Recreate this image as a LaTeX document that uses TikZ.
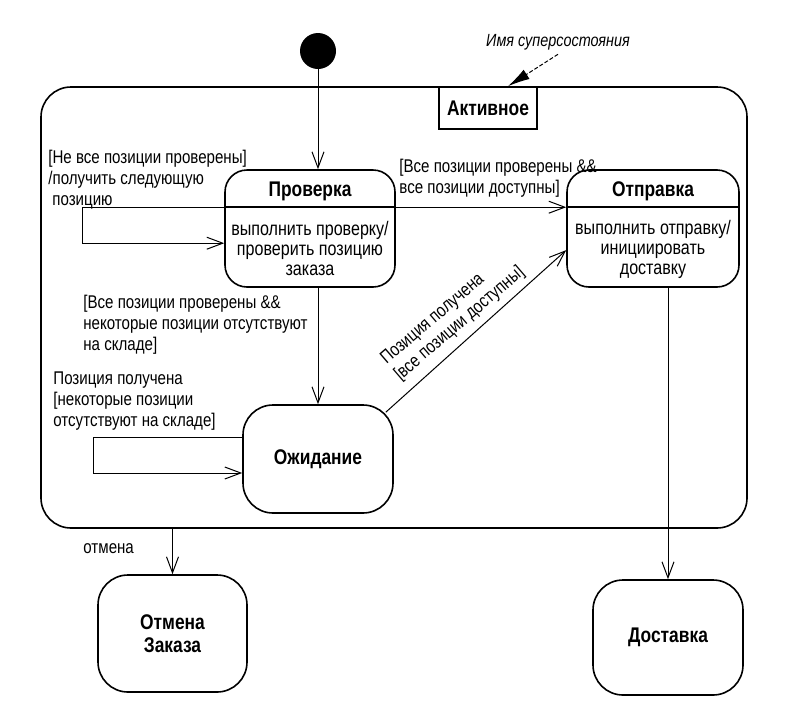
\documentclass[tikz,border=0pt]{standalone}
\usepackage{fontspec}
\setmainfont{Liberation Sans}[FakeStretch=0.82]
\usetikzlibrary{arrows.meta}

\tikzset{
  state/.style={draw, line width=0.8pt, rounded corners=15pt, align=center,
    font=\fontsize{10.6}{11.5}\selectfont\bfseries, inner sep=0pt},
  compstate/.style={draw, line width=0.8pt, rounded corners=11pt,
    minimum width=85pt, minimum height=58.5pt, inner sep=0pt},
  title/.style={font=\fontsize{10.6}{12}\selectfont\bfseries, inner sep=0pt},
  body/.style={font=\fontsize{9.8}{10}\selectfont, align=center, inner sep=0pt},
  guard/.style={font=\fontsize{9.2}{10.5}\selectfont, align=left, inner sep=0pt},
  trans/.style={line width=0.5pt, -{Straight Barb[length=8pt,width=6pt]}},
}

\begin{document}
\begin{tikzpicture}[x=0.5pt, y=-0.5pt]
  \useasboundingbox (0,0) rectangle (797,707);

  %%%%% superstate %%%%%
  \node[draw, line width=0.8pt, rounded corners=15pt, minimum width=353pt, minimum height=220.5pt] (Active) at (394,307.5) {};
  \node[draw, line width=0.8pt, title, minimum width=49pt, minimum height=21pt] (ActiveName) at (488,108) {Активное};

  \node[font=\fontsize{8.8}{10}\selectfont\itshape, inner sep=0pt] (SuperName) at (558,42) {Имя суперсостояния};
  \draw[line width=0.5pt, dash pattern=on 2pt off 1pt, -{Latex[length=11pt,width=5.5pt]}] ([yshift=-2pt]SuperName.south) -- ([xshift=10pt]ActiveName.north);

  %%%%% states %%%%%
  \node[circle, fill=black, minimum size=18pt, inner sep=0pt] (Init) at (318,51) {};

  \node[compstate] (Proverka) at (310,228.5) {};
  \node[title] (ProverkaT) at (310,191) {Проверка};
  \node[body] (ProverkaB) at (310,248) {выполнить проверку/\\проверить позицию\\заказа};
  \draw[line width=0.8pt] ([yshift=-19pt]Proverka.north west) -- ([yshift=-19pt]Proverka.north east);

  \node[compstate, minimum width=86pt] (Otpravka) at (653,228.5) {};
  \node[title] (OtpravkaT) at (653,191) {Отправка};
  \node[body] (OtpravkaB) at (653,249) {выполнить отправку/\\инициировать\\доставку};
  \draw[line width=0.8pt] ([yshift=-19pt]Otpravka.north west) -- ([yshift=-19pt]Otpravka.north east);

  \node[state, minimum width=75pt, minimum height=54pt] (Ozhidanie) at (318,459) {Ожидание};
  \node[state, minimum width=74.5pt, minimum height=58.5pt] (Otmena) at (172.5,633.5) {Отмена\\Заказа};
  \node[state, minimum width=75pt, minimum height=57.5pt] (Dostavka) at (668,637.5) {Доставка};

  %%%%% transitions %%%%%
  \draw[trans] (Init) -- (Init |- Proverka.north);
  \draw[trans] ([yshift=-19pt]Proverka.north west) -- ++(-142,0) -- ++(0,36) -- ([yshift=-37pt]Proverka.north west);
  \draw[trans] ([yshift=-19pt]Proverka.north east) -- ([yshift=-19pt]Otpravka.north west);
  \draw[trans] (Proverka.south -| Ozhidanie.north) -- (Ozhidanie.north);
  \draw[trans] ([yshift=11pt]Ozhidanie.west) -- ++(-149,0) -- ++(0,36) -- ([yshift=-7pt]Ozhidanie.west);
  \draw[trans] ([shift={(-8,8)}]Ozhidanie.north east) -- (Otpravka.194);
  \draw[trans] (Otpravka.south -| Dostavka.north) -- (Dostavka.north);
  \draw[trans] (Active.south -| Otmena.north) -- (Otmena.north);

  %%%%% labels %%%%%
  \node[guard, anchor=west] (gNext) at (48,180) {[Не все позиции проверены]\\/получить следующую\\\hspace*{2pt}позицию};
  \node[guard, anchor=west] (gAll) at (399,178) {[Все позиции проверены \&\&\\ все позиции доступны]};
  \node[guard, anchor=west] (gSome) at (83,325) {[Все позиции проверены \&\&\\некоторые позиции отсутствуют\\на складе]};
  \node[guard, anchor=west] (gGot) at (53,401) {Позиция получена\\{[}некоторые позиции\\отсутствуют на складе]};
  \node[guard, rotate=40.6] (gArrive) at (453,316) {Позиция получена\\{[}все позиции доступны]};
  \node[guard, anchor=west] (gCancel) at (83,549) {отмена};
\end{tikzpicture}
\end{document}
